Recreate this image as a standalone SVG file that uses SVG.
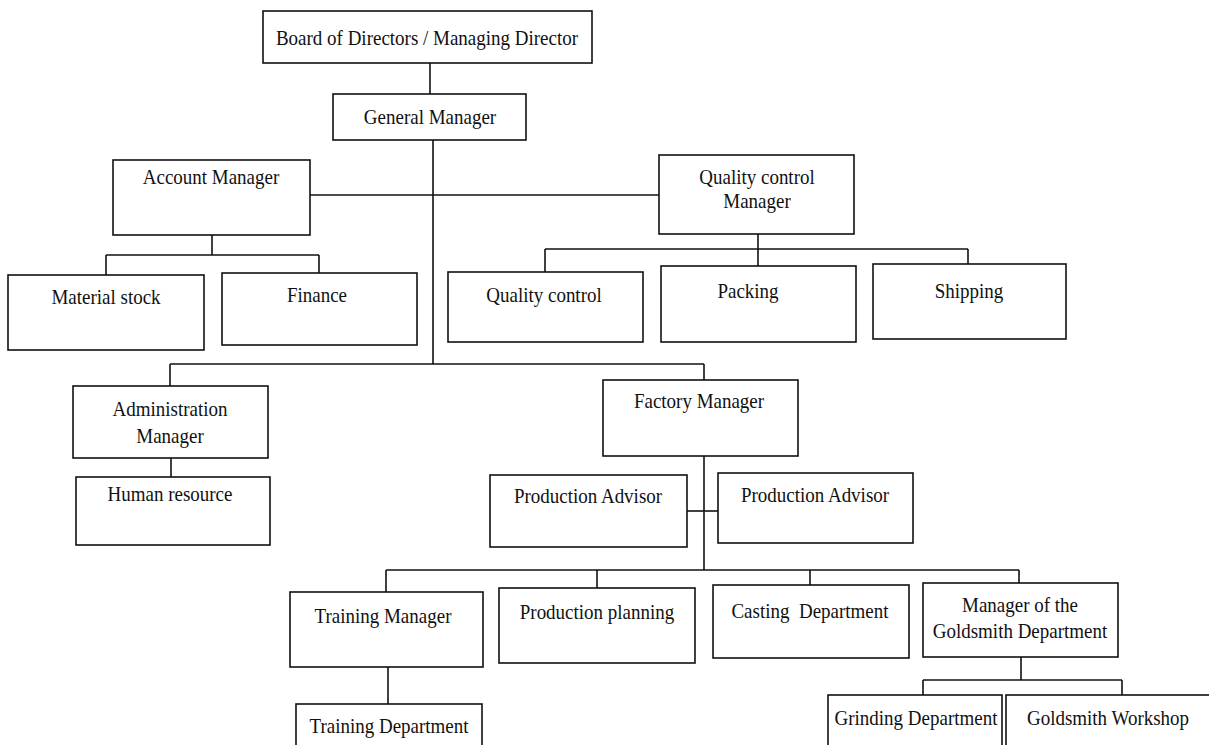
<svg xmlns="http://www.w3.org/2000/svg" width="1209" height="745" viewBox="0 0 1209 745">
<style>
.box{fill:#fff;stroke:#111;stroke-width:1.6}
.lbl{font-family:"Liberation Serif","Times New Roman",serif;font-size:19px;fill:#111;text-anchor:middle}
.conn line{stroke:#111;stroke-width:1.6}
</style>
<rect width="1209" height="745" fill="#fff"/>
<g class="conn" id="connectors">
<line x1="430" y1="63" x2="430" y2="94"/>
<line x1="433" y1="140" x2="433" y2="364"/>
<line x1="310" y1="195" x2="659" y2="195"/>
<line x1="212" y1="235" x2="212" y2="255"/>
<line x1="106" y1="255" x2="319" y2="255"/>
<line x1="106" y1="255" x2="106" y2="275"/>
<line x1="319" y1="255" x2="319" y2="273"/>
<line x1="758" y1="234" x2="758" y2="249"/>
<line x1="545" y1="249" x2="968" y2="249"/>
<line x1="545" y1="249" x2="545" y2="272"/>
<line x1="758" y1="249" x2="758" y2="266"/>
<line x1="968" y1="249" x2="968" y2="264"/>
<line x1="170" y1="364" x2="704" y2="364"/>
<line x1="170" y1="364" x2="170" y2="386"/>
<line x1="704" y1="364" x2="704" y2="380"/>
<line x1="171" y1="458" x2="171" y2="477"/>
<line x1="704" y1="456" x2="704" y2="570"/>
<line x1="687" y1="511" x2="718" y2="511"/>
<line x1="386" y1="570" x2="1019" y2="570"/>
<line x1="386" y1="570" x2="386" y2="592"/>
<line x1="597" y1="570" x2="597" y2="588"/>
<line x1="810" y1="570" x2="810" y2="585"/>
<line x1="1019" y1="570" x2="1019" y2="583"/>
<line x1="388" y1="667" x2="388" y2="704"/>
<line x1="1021" y1="657" x2="1021" y2="680"/>
<line x1="923" y1="680" x2="1122" y2="680"/>
<line x1="923" y1="680" x2="923" y2="695"/>
<line x1="1122" y1="680" x2="1122" y2="695"/>
</g>
<g id="board"><rect class="box" x="263" y="11" width="329" height="52"/><text class="lbl" transform="translate(427,45) scale(1,1.12)">Board of Directors / Managing Director</text></g>
<g id="gm"><rect class="box" x="333" y="94" width="193" height="46"/><text class="lbl" transform="translate(430,124) scale(1,1.12)">General Manager</text></g>
<g id="acct"><rect class="box" x="113" y="160" width="197" height="75"/><text class="lbl" transform="translate(211,184) scale(1,1.12)">Account Manager</text></g>
<g id="qcm"><rect class="box" x="659" y="155" width="195" height="79"/><text class="lbl" transform="translate(757,184) scale(1,1.12)">Quality control</text><text class="lbl" transform="translate(757,208) scale(1,1.12)">Manager</text></g>
<g id="material"><rect class="box" x="8" y="275" width="196" height="75"/><text class="lbl" transform="translate(106,304) scale(1,1.12)">Material stock</text></g>
<g id="finance"><rect class="box" x="222" y="273" width="195" height="72"/><text class="lbl" transform="translate(317,302) scale(1,1.12)">Finance</text></g>
<g id="qc"><rect class="box" x="448" y="272" width="195" height="70"/><text class="lbl" transform="translate(544,302) scale(1,1.12)">Quality control</text></g>
<g id="packing"><rect class="box" x="661" y="266" width="195" height="76"/><text class="lbl" transform="translate(748,298) scale(1,1.12)">Packing</text></g>
<g id="shipping"><rect class="box" x="873" y="264" width="193" height="75"/><text class="lbl" transform="translate(969,298) scale(1,1.12)">Shipping</text></g>
<g id="admin"><rect class="box" x="73" y="386" width="195" height="72"/><text class="lbl" transform="translate(170,416) scale(1,1.12)">Administration</text><text class="lbl" transform="translate(170,443) scale(1,1.12)">Manager</text></g>
<g id="hr"><rect class="box" x="76" y="477" width="194" height="68"/><text class="lbl" transform="translate(170,501) scale(1,1.12)">Human resource</text></g>
<g id="factory"><rect class="box" x="603" y="380" width="195" height="76"/><text class="lbl" transform="translate(699,408) scale(1,1.12)">Factory Manager</text></g>
<g id="pa1"><rect class="box" x="490" y="475" width="197" height="72"/><text class="lbl" transform="translate(588,503) scale(1,1.12)">Production Advisor</text></g>
<g id="pa2"><rect class="box" x="718" y="473" width="195" height="70"/><text class="lbl" transform="translate(815,502) scale(1,1.12)">Production Advisor</text></g>
<g id="training"><rect class="box" x="290" y="592" width="193" height="75"/><text class="lbl" transform="translate(383,623) scale(1,1.12)">Training Manager</text></g>
<g id="planning"><rect class="box" x="499" y="588" width="196" height="75"/><text class="lbl" transform="translate(597,619) scale(1,1.12)">Production planning</text></g>
<g id="casting"><rect class="box" x="713" y="585" width="196" height="73"/><text class="lbl" transform="translate(810,618) scale(1,1.12)" xml:space="preserve">Casting  Department</text></g>
<g id="goldmgr"><rect class="box" x="923" y="583" width="195" height="74"/><text class="lbl" transform="translate(1020,612) scale(1,1.12)">Manager of the</text><text class="lbl" transform="translate(1020,638) scale(1,1.12)">Goldsmith Department</text></g>
<g id="trainingdept"><rect class="box" x="296" y="704" width="186" height="50"/><text class="lbl" transform="translate(389,733) scale(1,1.12)">Training Department</text></g>
<g id="grinding"><rect class="box" x="828" y="695" width="174" height="55"/><text class="lbl" transform="translate(916,725) scale(1,1.12)">Grinding Department</text></g>
<g id="workshop"><rect class="box" x="1006" y="695" width="210" height="55"/><text class="lbl" transform="translate(1108,725) scale(1,1.12)">Goldsmith Workshop</text></g>
</svg>
